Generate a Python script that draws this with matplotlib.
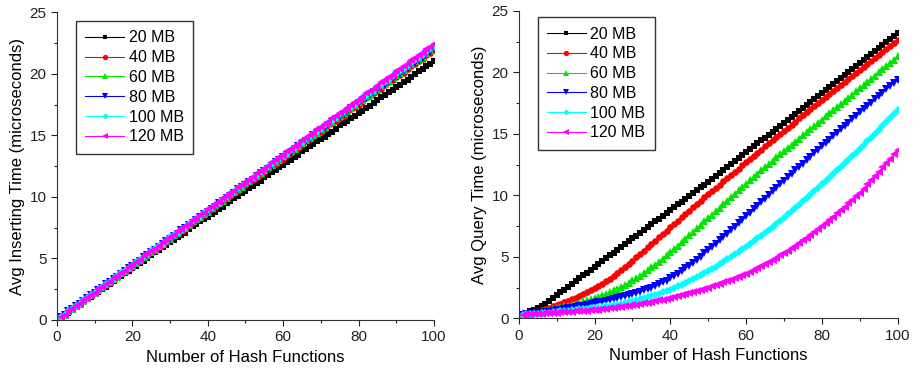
import numpy as np
import matplotlib
matplotlib.use('Agg')
import matplotlib.pyplot as plt
from matplotlib.ticker import MultipleLocator

plt.rcParams['font.family'] = ['Liberation Sans', 'DejaVu Sans']

# number of hash functions (x axis of both panels)
hash_funcs = np.arange(1, 101)
sizes = ['20 MB', '40 MB', '60 MB', '80 MB', '100 MB', '120 MB']

# avg inserting time (microseconds)
ins_20 = [0.2, 0.4, 0.6, 0.8, 1.1, 1.3, 1.5, 1.7, 1.9, 2.1,
          2.3, 2.5, 2.7, 2.9, 3.2, 3.4, 3.6, 3.8, 4.0, 4.2,
          4.4, 4.6, 4.8, 5.0, 5.3, 5.5, 5.7, 5.9, 6.1, 6.3,
          6.5, 6.7, 6.9, 7.1, 7.4, 7.6, 7.8, 8.0, 8.2, 8.4,
          8.6, 8.8, 9.0, 9.2, 9.5, 9.7, 9.9, 10.1, 10.3, 10.5,
          10.7, 10.9, 11.1, 11.3, 11.6, 11.8, 12.0, 12.2, 12.4, 12.6,
          12.8, 13.0, 13.2, 13.4, 13.7, 13.9, 14.1, 14.3, 14.5, 14.7,
          14.9, 15.1, 15.3, 15.5, 15.8, 16.0, 16.2, 16.4, 16.6, 16.8,
          17.0, 17.2, 17.4, 17.6, 17.9, 18.1, 18.3, 18.5, 18.7, 18.9,
          19.1, 19.3, 19.5, 19.7, 20.0, 20.2, 20.4, 20.6, 20.8, 21.0]
ins_40 = [0.2, 0.4, 0.7, 0.9, 1.1, 1.3, 1.5, 1.8, 2.0, 2.2,
          2.4, 2.6, 2.8, 3.1, 3.3, 3.5, 3.7, 3.9, 4.2, 4.4,
          4.6, 4.8, 5.0, 5.3, 5.5, 5.7, 5.9, 6.1, 6.4, 6.6,
          6.8, 7.0, 7.2, 7.4, 7.7, 7.9, 8.1, 8.3, 8.5, 8.8,
          9.0, 9.2, 9.4, 9.6, 9.9, 10.1, 10.3, 10.5, 10.7, 11.0,
          11.2, 11.4, 11.6, 11.8, 12.0, 12.3, 12.5, 12.7, 12.9, 13.1,
          13.4, 13.6, 13.8, 14.0, 14.2, 14.5, 14.7, 14.9, 15.1, 15.3,
          15.5, 15.8, 16.0, 16.2, 16.4, 16.6, 16.9, 17.1, 17.3, 17.5,
          17.7, 18.0, 18.2, 18.4, 18.6, 18.8, 19.1, 19.3, 19.5, 19.7,
          19.9, 20.1, 20.4, 20.6, 20.8, 21.0, 21.2, 21.5, 21.7, 21.9]
ins_60 = [0.2, 0.4, 0.7, 0.9, 1.1, 1.3, 1.5, 1.8, 2.0, 2.2,
          2.4, 2.7, 2.9, 3.1, 3.3, 3.5, 3.8, 4.0, 4.2, 4.4,
          4.6, 4.9, 5.1, 5.3, 5.5, 5.7, 6.0, 6.2, 6.4, 6.6,
          6.9, 7.1, 7.3, 7.5, 7.7, 8.0, 8.2, 8.4, 8.6, 8.8,
          9.1, 9.3, 9.5, 9.7, 9.9, 10.2, 10.4, 10.6, 10.8, 11.1,
          11.3, 11.5, 11.7, 11.9, 12.2, 12.4, 12.6, 12.8, 13.0, 13.3,
          13.5, 13.7, 13.9, 14.1, 14.4, 14.6, 14.8, 15.0, 15.2, 15.5,
          15.7, 15.9, 16.1, 16.4, 16.6, 16.8, 17.0, 17.2, 17.5, 17.7,
          17.9, 18.1, 18.3, 18.6, 18.8, 19.0, 19.2, 19.4, 19.7, 19.9,
          20.1, 20.3, 20.6, 20.8, 21.0, 21.2, 21.4, 21.7, 21.9, 22.1]
ins_80 = [0.2, 0.4, 0.7, 0.9, 1.1, 1.3, 1.5, 1.8, 2.0, 2.2,
          2.4, 2.6, 2.9, 3.1, 3.3, 3.5, 3.7, 4.0, 4.2, 4.4,
          4.6, 4.8, 5.1, 5.3, 5.5, 5.7, 5.9, 6.2, 6.4, 6.6,
          6.8, 7.0, 7.3, 7.5, 7.7, 7.9, 8.1, 8.4, 8.6, 8.8,
          9.0, 9.2, 9.5, 9.7, 9.9, 10.1, 10.3, 10.6, 10.8, 11.0,
          11.2, 11.4, 11.7, 11.9, 12.1, 12.3, 12.5, 12.8, 13.0, 13.2,
          13.4, 13.6, 13.9, 14.1, 14.3, 14.5, 14.7, 15.0, 15.2, 15.4,
          15.6, 15.8, 16.1, 16.3, 16.5, 16.7, 16.9, 17.2, 17.4, 17.6,
          17.8, 18.0, 18.3, 18.5, 18.7, 18.9, 19.1, 19.4, 19.6, 19.8,
          20.0, 20.2, 20.5, 20.7, 20.9, 21.1, 21.3, 21.6, 21.8, 22.0]
ins_100 = [0.2, 0.4, 0.7, 0.9, 1.1, 1.3, 1.6, 1.8, 2.0, 2.2,
           2.4, 2.7, 2.9, 3.1, 3.3, 3.6, 3.8, 4.0, 4.2, 4.4,
           4.7, 4.9, 5.1, 5.3, 5.6, 5.8, 6.0, 6.2, 6.4, 6.7,
           6.9, 7.1, 7.3, 7.5, 7.8, 8.0, 8.2, 8.4, 8.7, 8.9,
           9.1, 9.3, 9.5, 9.8, 10.0, 10.2, 10.4, 10.7, 10.9, 11.1,
           11.3, 11.5, 11.8, 12.0, 12.2, 12.4, 12.7, 12.9, 13.1, 13.3,
           13.5, 13.8, 14.0, 14.2, 14.4, 14.7, 14.9, 15.1, 15.3, 15.5,
           15.8, 16.0, 16.2, 16.4, 16.7, 16.9, 17.1, 17.3, 17.5, 17.8,
           18.0, 18.2, 18.4, 18.6, 18.9, 19.1, 19.3, 19.5, 19.8, 20.0,
           20.2, 20.4, 20.6, 20.9, 21.1, 21.3, 21.5, 21.8, 22.0, 22.2]
ins_120 = [0.2, 0.4, 0.7, 0.9, 1.1, 1.3, 1.6, 1.8, 2.0, 2.2,
           2.5, 2.7, 2.9, 3.1, 3.4, 3.6, 3.8, 4.0, 4.3, 4.5,
           4.7, 4.9, 5.2, 5.4, 5.6, 5.8, 6.0, 6.3, 6.5, 6.7,
           6.9, 7.2, 7.4, 7.6, 7.8, 8.1, 8.3, 8.5, 8.7, 9.0,
           9.2, 9.4, 9.6, 9.9, 10.1, 10.3, 10.5, 10.8, 11.0, 11.2,
           11.4, 11.6, 11.9, 12.1, 12.3, 12.5, 12.8, 13.0, 13.2, 13.4,
           13.7, 13.9, 14.1, 14.3, 14.6, 14.8, 15.0, 15.2, 15.5, 15.7,
           15.9, 16.1, 16.4, 16.6, 16.8, 17.0, 17.2, 17.5, 17.7, 17.9,
           18.1, 18.4, 18.6, 18.8, 19.0, 19.3, 19.5, 19.7, 19.9, 20.2,
           20.4, 20.6, 20.8, 21.1, 21.3, 21.5, 21.7, 22.0, 22.2, 22.4]

# avg query time (microseconds)
qry_20 = [0.35, 0.45, 0.57, 0.70, 0.85, 1.02, 1.21, 1.42, 1.65, 1.90,
          2.12, 2.35, 2.58, 2.81, 3.04, 3.27, 3.50, 3.73, 3.96, 4.20,
          4.43, 4.66, 4.89, 5.12, 5.35, 5.58, 5.81, 6.04, 6.27, 6.50,
          6.73, 6.96, 7.19, 7.42, 7.65, 7.88, 8.11, 8.34, 8.57, 8.80,
          9.03, 9.26, 9.49, 9.72, 9.95, 10.18, 10.41, 10.64, 10.87, 11.10,
          11.34, 11.58, 11.82, 12.06, 12.30, 12.54, 12.78, 13.02, 13.26, 13.50,
          13.74, 13.98, 14.22, 14.46, 14.70, 14.94, 15.18, 15.42, 15.66, 15.90,
          16.14, 16.38, 16.62, 16.86, 17.10, 17.34, 17.58, 17.82, 18.06, 18.30,
          18.55, 18.79, 19.04, 19.28, 19.53, 19.77, 20.02, 20.26, 20.51, 20.75,
          21.00, 21.24, 21.49, 21.73, 21.98, 22.22, 22.47, 22.71, 22.96, 23.20]
qry_40 = [0.30, 0.35, 0.41, 0.48, 0.55, 0.65, 0.75, 0.86, 0.98, 1.10,
          1.21, 1.33, 1.45, 1.57, 1.70, 1.84, 1.98, 2.13, 2.29, 2.45,
          2.63, 2.82, 3.02, 3.23, 3.45, 3.68, 3.92, 4.17, 4.43, 4.70,
          4.97, 5.24, 5.51, 5.78, 6.05, 6.32, 6.59, 6.86, 7.13, 7.40,
          7.67, 7.94, 8.21, 8.48, 8.75, 9.02, 9.29, 9.56, 9.83, 10.10,
          10.36, 10.62, 10.88, 11.14, 11.40, 11.66, 11.92, 12.18, 12.44, 12.70,
          12.96, 13.21, 13.47, 13.72, 13.98, 14.23, 14.49, 14.74, 15.00, 15.25,
          15.50, 15.75, 16.00, 16.25, 16.50, 16.75, 17.00, 17.25, 17.50, 17.75,
          18.00, 18.24, 18.49, 18.73, 18.98, 19.22, 19.47, 19.71, 19.96, 20.20,
          20.44, 20.68, 20.92, 21.16, 21.40, 21.64, 21.88, 22.12, 22.36, 22.60]
qry_60 = [0.30, 0.35, 0.40, 0.45, 0.51, 0.56, 0.62, 0.68, 0.75, 0.83,
          0.90, 0.97, 1.05, 1.13, 1.21, 1.29, 1.38, 1.47, 1.56, 1.65,
          1.76, 1.88, 2.00, 2.13, 2.27, 2.42, 2.58, 2.74, 2.91, 3.09,
          3.28, 3.48, 3.69, 3.91, 4.14, 4.38, 4.62, 4.87, 5.12, 5.38,
          5.65, 5.92, 6.20, 6.48, 6.76, 7.04, 7.32, 7.60, 7.88, 8.16,
          8.44, 8.72, 9.00, 9.28, 9.56, 9.84, 10.12, 10.40, 10.68, 10.96,
          11.23, 11.50, 11.77, 12.04, 12.30, 12.56, 12.82, 13.08, 13.34, 13.60,
          13.86, 14.11, 14.37, 14.62, 14.88, 15.13, 15.39, 15.64, 15.90, 16.15,
          16.41, 16.66, 16.92, 17.17, 17.43, 17.68, 17.94, 18.19, 18.45, 18.70,
          18.96, 19.22, 19.48, 19.74, 20.00, 20.26, 20.52, 20.78, 21.04, 21.30]
qry_80 = [0.30, 0.33, 0.36, 0.39, 0.43, 0.47, 0.51, 0.56, 0.61, 0.66,
          0.71, 0.76, 0.81, 0.86, 0.92, 0.98, 1.04, 1.10, 1.17, 1.24,
          1.30, 1.37, 1.44, 1.51, 1.58, 1.65, 1.73, 1.81, 1.89, 1.97,
          2.06, 2.16, 2.27, 2.38, 2.50, 2.63, 2.77, 2.92, 3.08, 3.25,
          3.44, 3.64, 3.85, 4.07, 4.30, 4.54, 4.78, 5.03, 5.28, 5.54,
          5.81, 6.08, 6.35, 6.62, 6.89, 7.17, 7.45, 7.73, 8.01, 8.29,
          8.58, 8.87, 9.16, 9.45, 9.74, 10.03, 10.32, 10.61, 10.90, 11.19,
          11.47, 11.75, 12.03, 12.31, 12.59, 12.87, 13.15, 13.43, 13.71, 13.99,
          14.27, 14.54, 14.82, 15.09, 15.37, 15.64, 15.92, 16.19, 16.47, 16.74,
          17.01, 17.27, 17.54, 17.81, 18.07, 18.34, 18.61, 18.87, 19.14, 19.40]
qry_100 = [0.30, 0.32, 0.34, 0.36, 0.39, 0.42, 0.45, 0.48, 0.51, 0.55,
           0.58, 0.61, 0.64, 0.67, 0.70, 0.73, 0.76, 0.79, 0.82, 0.86,
           0.90, 0.94, 0.98, 1.03, 1.08, 1.13, 1.19, 1.25, 1.32, 1.39,
           1.46, 1.54, 1.62, 1.71, 1.80, 1.90, 2.00, 2.11, 2.22, 2.34,
           2.47, 2.60, 2.74, 2.89, 3.04, 3.20, 3.36, 3.52, 3.69, 3.86,
           4.04, 4.22, 4.41, 4.60, 4.80, 5.00, 5.20, 5.41, 5.62, 5.83,
           6.05, 6.27, 6.50, 6.73, 6.97, 7.21, 7.45, 7.70, 7.95, 8.20,
           8.46, 8.72, 8.98, 9.25, 9.52, 9.79, 10.06, 10.33, 10.61, 10.89,
           11.17, 11.45, 11.74, 12.03, 12.32, 12.61, 12.90, 13.19, 13.48, 13.77,
           14.08, 14.39, 14.70, 15.01, 15.32, 15.64, 15.96, 16.28, 16.60, 16.92]
qry_120 = [0.30, 0.32, 0.34, 0.36, 0.38, 0.40, 0.41, 0.43, 0.45, 0.47,
           0.49, 0.51, 0.53, 0.55, 0.57, 0.59, 0.61, 0.63, 0.66, 0.69,
           0.72, 0.75, 0.78, 0.82, 0.86, 0.90, 0.94, 0.98, 1.03, 1.08,
           1.13, 1.18, 1.23, 1.29, 1.35, 1.41, 1.47, 1.53, 1.60, 1.67,
           1.74, 1.81, 1.89, 1.97, 2.05, 2.13, 2.22, 2.31, 2.40, 2.50,
           2.60, 2.70, 2.81, 2.92, 3.03, 3.14, 3.26, 3.38, 3.50, 3.63,
           3.78, 3.93, 4.09, 4.25, 4.42, 4.59, 4.76, 4.94, 5.12, 5.30,
           5.50, 5.70, 5.91, 6.12, 6.34, 6.56, 6.79, 7.02, 7.26, 7.50,
           7.75, 8.01, 8.27, 8.54, 8.81, 9.08, 9.36, 9.64, 9.93, 10.22,
           10.55, 10.89, 11.23, 11.57, 11.92, 12.27, 12.62, 12.98, 13.34, 13.70]

colors = ['#000000', '#ff0000', '#00e600', '#0000ff', '#00ffff', '#ff00ff']
markers = ['s', 'o', '^', 'v', 'D', '<']
msizes = [4.3, 4.8, 5.2, 5.2, 4.0, 5.2]


def draw_panel(ax, series, ylabel, anchor):
    for vals, lab, c, m, ms in zip(series, sizes, colors, markers, msizes):
        ax.plot(hash_funcs, vals, color=c, linewidth=0.8, marker=m,
                markersize=ms, markeredgewidth=0, label=lab)
    ax.set_xlim(0, 100)
    ax.set_ylim(0, 25)
    ax.xaxis.set_major_locator(MultipleLocator(20))
    ax.xaxis.set_minor_locator(MultipleLocator(10))
    ax.yaxis.set_major_locator(MultipleLocator(5))
    ax.yaxis.set_minor_locator(MultipleLocator(2.5))
    ax.tick_params(which='major', direction='out', length=4, width=0.8,
                   labelsize=11, colors='#222222')
    ax.tick_params(which='minor', direction='out', length=2.5, width=0.8,
                   colors='#222222')
    for side in ['top', 'right']:
        ax.spines[side].set_visible(False)
    for side in ['left', 'bottom']:
        ax.spines[side].set_color('#333333')
    ax.set_xlabel('Number of Hash Functions', fontsize=12, labelpad=4)
    ax.set_ylabel(ylabel, fontsize=12, labelpad=3)
    leg = ax.legend(loc='upper left', bbox_to_anchor=anchor, borderaxespad=0,
                    fontsize=11.5, handlelength=2.4, handletextpad=0.3,
                    labelspacing=0.3, borderpad=0.6, fancybox=False,
                    framealpha=1, edgecolor='#333333', markerscale=0.8)
    leg.get_frame().set_linewidth(1.0)


fig = plt.figure(figsize=(9.15, 3.72), dpi=100)
ax1 = fig.add_axes([0.0623, 0.140, 0.412, 0.827])
ax2 = fig.add_axes([0.567, 0.144, 0.414, 0.827])

draw_panel(ax1, [ins_20, ins_40, ins_60, ins_80, ins_100, ins_120],
           'Avg Inserting Time (microseconds)', (0.05, 0.972))
draw_panel(ax2, [qry_20, qry_40, qry_60, qry_80, qry_100, qry_120],
           'Avg Query Time (microseconds)', (0.05, 0.98))

fig.savefig('out.png', dpi=100)
